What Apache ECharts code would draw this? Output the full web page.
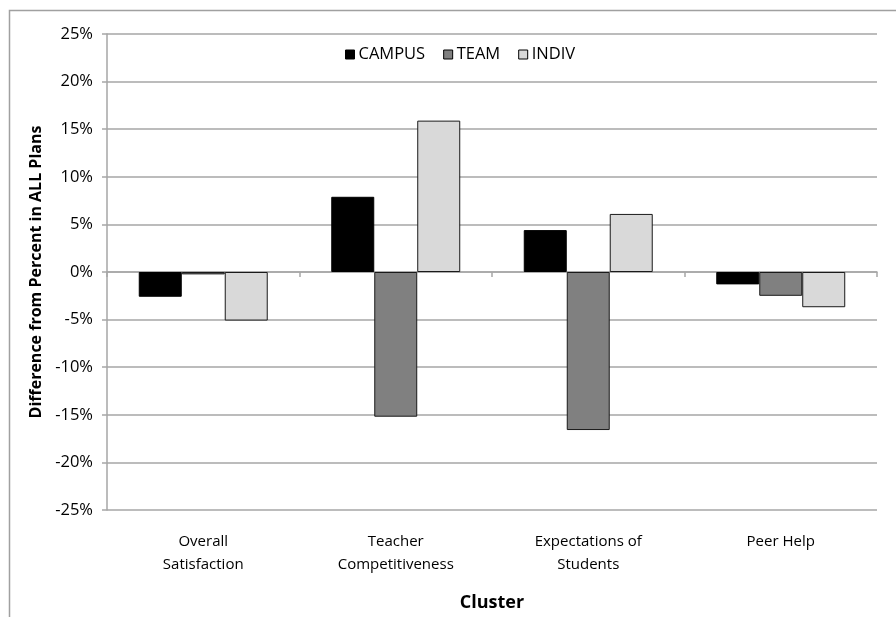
<!DOCTYPE html>
<html>
<head>
<meta charset="utf-8">
<script src="https://cdn.jsdelivr.net/npm/echarts@6/dist/echarts.min.js"></script>
<style>
  html, body { margin: 0; padding: 0; background: #fff; }
  #chart { width: 896px; height: 617px; }
</style>
</head>
<body>
<div id="chart"></div>
<script>
// Cluster categories and per-plan differences (percentage points vs ALL plans)
const categories = ['Overall\nSatisfaction', 'Teacher\nCompetitiveness', 'Expectations of\nStudents', 'Peer Help'];
const campus = [-2.6, 7.9, 4.4, -1.3];
const team   = [-0.25, -15.2, -16.6, -2.5];
const indiv  = [-5.1, 15.9, 6.1, -3.7];
const yTicks = { min: -25, max: 25, step: 5 };

const FONT = '"Open Sans", Lato, sans-serif';
const GRID_GREY = '#a6a6a6';

const chart = echarts.init(document.getElementById('chart'), null, { renderer: 'canvas' });

function barSeries(name, data, fill, border) {
  return {
    name: name,
    type: 'bar',
    xAxisIndex: 0,
    data: data,
    barGap: '0%',
    barCategoryGap: '33%',
    itemStyle: { color: fill, borderColor: border, borderWidth: 1 }
  };
}

chart.setOption({
  animation: false,
  textStyle: { fontFamily: FONT },
  graphic: [{
    type: 'rect',
    shape: { x: 9.5, y: 10.5, width: 1000, height: 1000 },
    style: { fill: 'none', stroke: '#a0a0a0', lineWidth: 1.5 },
    silent: true
  }],
  legend: {
    top: 41,
    left: 340,
    itemWidth: 9,
    itemHeight: 9,
    itemGap: 18,
    icon: 'rect',
    textStyle: { fontFamily: FONT, fontSize: 16.5, color: '#000', padding: [0, 0, 0, -1] },
    data: [
      { name: 'CAMPUS', itemStyle: { borderColor: '#000', borderWidth: 1 } },
      { name: 'TEAM', itemStyle: { borderColor: '#000', borderWidth: 1 } },
      { name: 'INDIV', itemStyle: { borderColor: '#000', borderWidth: 1 } }
    ]
  },
  grid: { left: 107, right: 19, top: 34, bottom: 106, containLabel: false },
  xAxis: [{
    type: 'category',
    data: categories,
    axisLine: { onZero: true, lineStyle: { color: GRID_GREY, width: 1.5 } },
    axisTick: { show: true, length: 5, lineStyle: { color: GRID_GREY, width: 1.5 } },
    axisLabel: { show: false },
    splitLine: { show: false }
  }, {
    type: 'category',
    data: categories,
    position: 'bottom',
    axisLine: { show: false },
    axisTick: { show: false },
    axisLabel: {
      show: true,
      margin: 20,
      fontFamily: FONT,
      fontSize: 15,
      lineHeight: 23,
      color: '#000'
    },
    name: 'Cluster',
    nameLocation: 'middle',
    nameGap: 84,
    nameTextStyle: { fontFamily: FONT, fontSize: 18, fontWeight: 'bold', color: '#000' }
  }],
  yAxis: {
    type: 'value',
    min: yTicks.min,
    max: yTicks.max,
    interval: yTicks.step,
    axisLine: { show: true, lineStyle: { color: GRID_GREY, width: 1.5 } },
    axisTick: { show: true, length: 5, lineStyle: { color: GRID_GREY, width: 1.5 } },
    axisLabel: {
      formatter: v => v + '%',
      margin: 14,
      fontFamily: FONT,
      fontSize: 16.5,
      color: '#000'
    },
    splitLine: { show: true, lineStyle: { color: GRID_GREY, width: 1.5 } },
    name: 'Difference from Percent in ALL Plans',
    nameLocation: 'middle',
    nameGap: 61,
    nameTextStyle: { fontFamily: FONT, fontSize: 16, fontWeight: 'bold', color: '#000' }
  },
  series: [
    barSeries('CAMPUS', campus, '#000000', '#000000'),
    barSeries('TEAM', team, '#808080', '#1a1a1a'),
    barSeries('INDIV', indiv, '#d9d9d9', '#1a1a1a')
  ]
});
</script>
</body>
</html>
